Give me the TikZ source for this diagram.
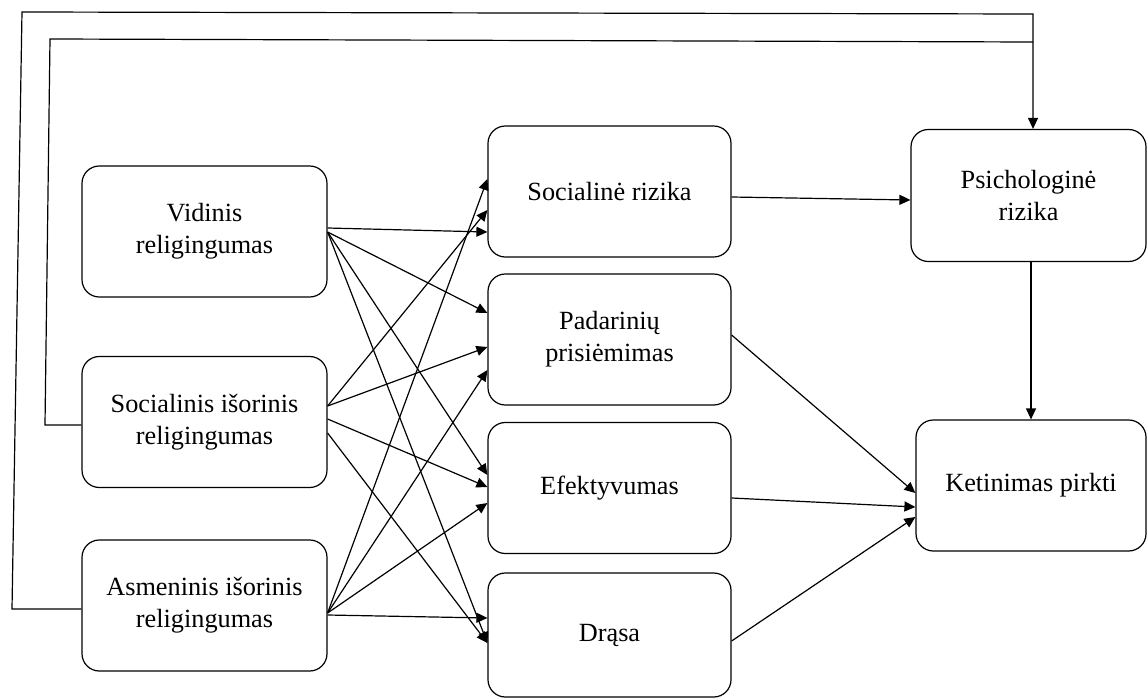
\documentclass[tikz,border=0pt]{standalone}
\usepackage{fontspec}
\setmainfont{Liberation Serif}
\usetikzlibrary{arrows.meta}
\tikzset{
  box/.style={draw=black, line width=0.9pt, rounded corners=13pt, inner sep=0pt, align=center,
    font=\fontsize{19.7pt}{24pt}\selectfont},
  lbox/.style={box, minimum width=183.75pt, minimum height=98.25pt},
  mbox/.style={box, minimum width=182.25pt, minimum height=98.25pt},
  rbox/.style={box, minimum width=176.25pt, minimum height=99pt},
  conn/.style={draw=black, line width=0.9pt},
  arr/.style={conn, -{Triangle[length=8.25pt,width=7.5pt]}},
}
\begin{document}
\begin{tikzpicture}[x=0.75pt,y=-0.75pt]
\useasboundingbox (0,0) rectangle (1148,699);
% left column
\node[lbox] (V) at (204.5,231.5) {Vidinis\\religingumas};
\node[lbox] (S) at (204.5,422) {Socialinis išorinis\\religingumas};
\node[lbox] (A) at (204.5,605.5) {Asmeninis išorinis\\religingumas};
% middle column
\node[mbox] (SR) at (609.5,191.5) {Socialinė rizika};
\node[mbox] (PP) at (609.5,339.5) {Padarinių\\prisiėmimas};
\node[mbox] (EF) at (609.5,488) {Efektyvumas};
\node[mbox, minimum height=93pt] (DR) at (609.5,635) {Drąsa};
% right column
\node[rbox] (PR) at (1028.5,195.5) {Psichologinė\\rizika};
\node[box, minimum width=172.5pt, minimum height=98.25pt] (KP) at (1031,485.5) {Ketinimas pirkti};
% feedback corners
\coordinate (o1) at (12,609);
\coordinate (o2) at (22,12);
\coordinate (o3) at (1033,14);
\coordinate (i1) at (45,425);
\coordinate (i2) at (50,39);
\coordinate (i3) at (1033,42);
\draw[arr] (A.west |- 0,609) -- (o1) -- (o2) -- (o3) -- (o3 |- PR.north);
\draw[conn] (S.west |- 0,425) -- (i1) -- (i2) -- (i3);
% Vidinis
\draw[arr] (V.east |- 0,228) -- (SR.west |- 0,232);
\draw[arr] (V.east |- 0,232) -- (PP.west |- 0,313);
\draw[arr] (V.east |- 0,232) -- (EF.west |- 0,475);
\draw[arr] (V.east |- 0,232) -- (DR.west |- 0,643);
% Socialinis
\draw[arr] (S.east |- 0,406) -- (SR.west |- 0,210);
\draw[arr] (S.east |- 0,406) -- (PP.west |- 0,347);
\draw[arr] (S.east |- 0,419) -- (EF.west |- 0,487);
\draw[arr] (S.east |- 0,433) -- (DR.west |- 0,643);
% Asmeninis
\draw[arr] (A.east |- 0,613) -- (SR.west |- 0,179);
\draw[arr] (A.east |- 0,613) -- (PP.west |- 0,370);
\draw[arr] (A.east |- 0,613) -- (EF.west |- 0,503);
\draw[arr] (A.east |- 0,615) -- (DR.west |- 0,618);
% to right column
\draw[arr] (SR.east |- 0,197) -- (PR.west |- 0,200);
\draw[arr] (PR.south -| 1031,0) -- (KP.north -| 1031,0);
\draw[arr] (PP.east |- 0,335) -- (KP.west |- 0,493);
\draw[arr] (EF.east |- 0,498) -- (KP.west |- 0,507);
\draw[arr] (DR.east |- 0,641) -- (KP.west |- 0,517);
\end{tikzpicture}
\end{document}
